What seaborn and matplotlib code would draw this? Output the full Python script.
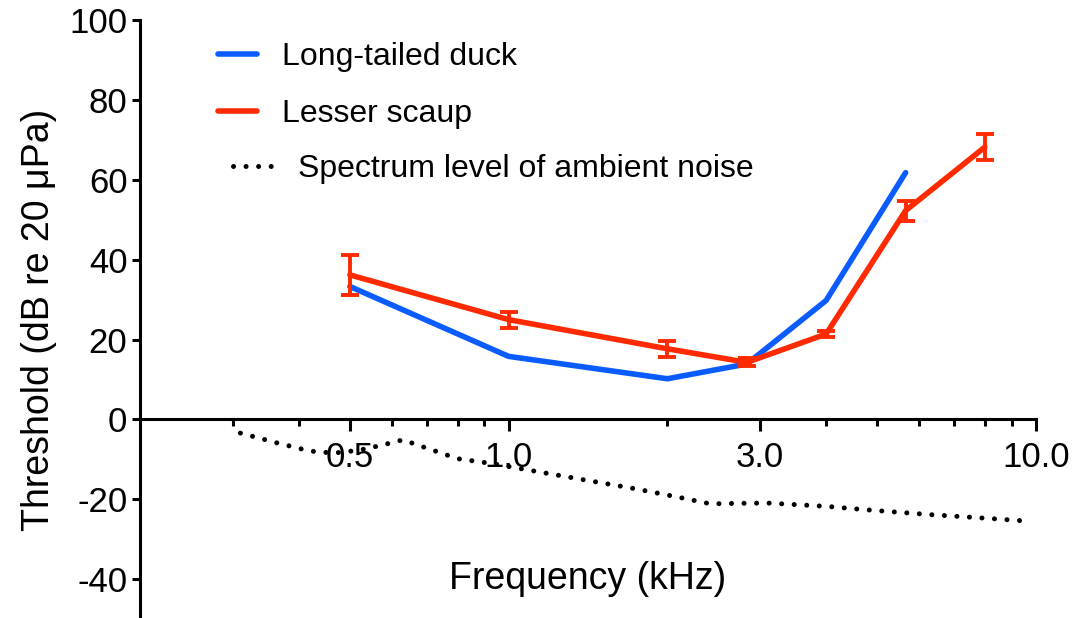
import matplotlib
matplotlib.use("Agg")
import matplotlib.pyplot as plt
import seaborn as sns
import pandas as pd
import numpy as np
from matplotlib.lines import Line2D

# ---- data ----
freq_duck = [0.5, 1.0, 2.0, 2.83, 4.0, 5.66]
thr_duck = [33.3, 15.8, 10.2, 13.9, 29.8, 61.8]

freq_scaup = [0.5, 1.0, 2.0, 2.83, 4.0, 5.66, 8.0]
thr_scaup = [36.2, 25.0, 17.7, 14.3, 21.4, 52.3, 68.2]
err_scaup = [5.1, 2.0, 2.0, 1.0, 0.8, 2.5, 3.2]

freq_noise = [0.31, 0.365, 0.42, 0.466, 0.517, 0.572, 0.63, 0.69, 0.80, 0.937,
              1.085, 1.39, 1.70, 2.09, 2.41, 3.09, 4.01, 4.92, 6.28, 7.8, 9.8]
lvl_noise = [-3.4, -5.9, -7.9, -8.4, -7.75, -6.5, -5.1, -6.9, -9.8, -11.1,
             -12.6, -15.1, -17.1, -19.4, -21.1, -20.9, -21.75, -22.75, -23.8, -24.6, -25.5]

major_ticks = [0.5, 1.0, 3.0, 10.0]
major_labels = ["0.5", "1.0", "3.0", "10.0"]
minor_ticks = [0.3, 0.4, 0.6, 0.7, 0.8, 0.9, 2, 4, 5, 6, 7, 8, 9]
y_ticks = [-40, -20, 0, 20, 40, 60, 80, 100]

labels = ["Long-tailed duck", "Lesser scaup", "Spectrum level of ambient noise"]

BLUE = "#0a5cff"
RED = "#ff2a00"
DOTS = (0, (0.01, 2.5))

sns.set_theme(style="ticks")
plt.rcParams["font.family"] = ["Liberation Sans", "DejaVu Sans"]
plt.rcParams["axes.unicode_minus"] = False
plt.rcParams["text.color"] = "black"
plt.rcParams["axes.labelcolor"] = "black"
plt.rcParams["xtick.color"] = "black"
plt.rcParams["ytick.color"] = "black"
plt.rcParams["axes.edgecolor"] = "black"

fig = plt.figure(figsize=(10.73, 6.18), dpi=100)
ax = fig.add_axes([140/1073, -0.002, (1036-140)/1073, 0.9696])

df_duck = pd.DataFrame({"f": freq_duck, "t": thr_duck})
df_scaup = pd.DataFrame({"f": freq_scaup, "t": thr_scaup})
df_noise = pd.DataFrame({"f": freq_noise, "t": lvl_noise})

sns.lineplot(data=df_noise, x="f", y="t", ax=ax, color="black", lw=3.6,
             linestyle=DOTS, dash_capstyle="round", zorder=2)
sns.lineplot(data=df_duck, x="f", y="t", ax=ax, color=BLUE, lw=4.0,
             solid_capstyle="round", zorder=3)
sns.lineplot(data=df_scaup, x="f", y="t", ax=ax, color=RED, lw=4.0,
             solid_capstyle="round", zorder=4)
ax.errorbar(freq_scaup, thr_scaup, yerr=err_scaup, fmt="none", ecolor=RED,
            elinewidth=2.8, capsize=6.5, capthick=2.8, zorder=4)

ax.set_xscale("log")
ax.set_xlim(0.2, 10)
ax.set_ylim(-50, 100)
ax.set_xticks(major_ticks)
ax.set_xticklabels(major_labels)
ax.set_xticks(minor_ticks, minor=True)
ax.xaxis.set_minor_formatter(matplotlib.ticker.NullFormatter())
ax.set_yticks(y_ticks)
ax.set_yticklabels([str(v) for v in y_ticks])

for s in ["top", "right"]:
    ax.spines[s].set_visible(False)
ax.spines["bottom"].set_position(("data", 0))
ax.spines["bottom"].set_linewidth(2.2)
ax.spines["left"].set_linewidth(2.2)
ax.spines["bottom"].set_zorder(1)

ax.tick_params(axis="x", which="major", length=8.5, width=2.2, pad=7,
               labelsize=25, colors="black")
ax.tick_params(axis="x", which="minor", length=5, width=2.2)
ax.tick_params(axis="y", which="major", length=6, width=2.2, pad=3,
               labelsize=25, colors="black")

ax.set_xlabel("Frequency (kHz)", fontsize=27, color="black")
ax.xaxis.set_label_coords(0.5, 0.098)
ax.set_ylabel("Threshold (dB re 20 \u03bcPa)", fontsize=27, color="black")
ax.yaxis.set_label_coords(-0.093, 0.5)

handles_species = [
    Line2D([], [], color=BLUE, lw=4.0, solid_capstyle="round"),
    Line2D([], [], color=RED, lw=4.0, solid_capstyle="round"),
]
leg1 = ax.legend(handles_species, labels[:2], loc="upper left",
                 bbox_to_anchor=(0.0865, 0.963), frameon=False, fontsize=23,
                 handlelength=1.25, handletextpad=0.78, labelspacing=0.83,
                 borderpad=0, borderaxespad=0, labelcolor="black")
ax.add_artist(leg1)
handle_noise = [Line2D([], [], color="black", lw=3.6, linestyle=DOTS,
                       dash_capstyle="round")]
ax.legend(handle_noise, labels[2:], loc="upper left",
          bbox_to_anchor=(0.1038, 0.776), frameon=False, fontsize=23,
          handlelength=1.3, handletextpad=0.73, borderpad=0,
          borderaxespad=0, labelcolor="black")

fig.savefig("out.png", dpi=100)
